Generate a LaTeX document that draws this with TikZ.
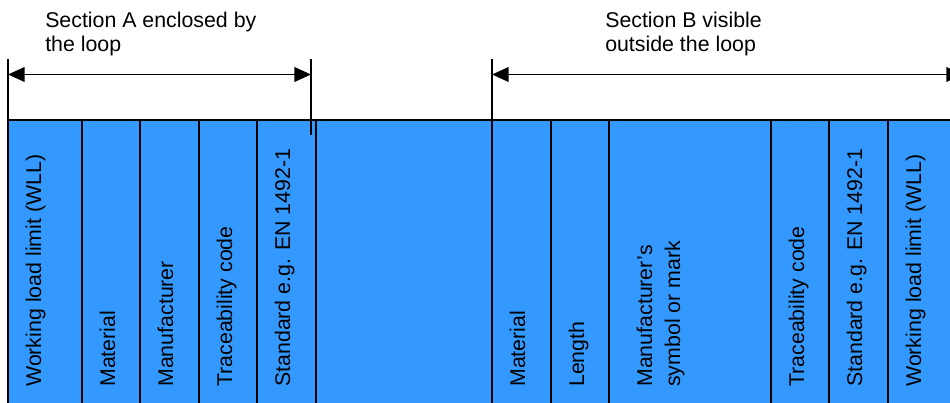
\documentclass[tikz,border=0pt]{standalone}
\usepackage{fontspec}
\setmainfont{Liberation Sans}
\usetikzlibrary{arrows.meta}
\definecolor{stripblue}{RGB}{51,153,255}
\begin{document}
\begin{tikzpicture}[x=0.75pt,y=-0.75pt]
\tikzstyle{every node}=[font=\fontsize{16}{18}\selectfont,inner sep=0pt]
\tikzstyle{field}=[rotate=90,anchor=base west,align=left]
\tikzstyle{heading}=[anchor=base west,align=left]
\tikzstyle{dimline}=[line width=1.3pt,{Triangle[length=12.5pt,width=11pt]}-{Triangle[length=12.5pt,width=11pt]}]
\useasboundingbox (0,0) rectangle (950,403);
\clip (0,0) rectangle (950,403);
% the strip
\fill[stripblue] (8,120) rectangle (980,420);
\draw[line width=1.2pt] (980,120) -- (8,120) -- (8,420);
\foreach \x in {82,140,199,257,316,492,551,609,771,829,888}{
\draw[line width=1.5pt] (\x,120) -- (\x,420);}
% fields of section A and B
\foreach \n/\x/\t in {wllA/8/Working load limit (WLL), matA/82/Material, manA/140/Manufacturer, trcA/199/Traceability code, stdA/257/Standard e.g. EN 1492-1, matB/492/Material, lenB/551/Length, manB/647/{Manufacturer’s\\[3pt]symbol or mark}, trcB/771/Traceability code, stdB/829/Standard e.g. EN 1492-1, wllB/888/Working load limit (WLL)}{
\path (\x+33,387) node[field] (\n) {\t};}
% dimension lines
\coordinate (a1) at (8,74.5);
\coordinate (a2) at (311,74.5);
\coordinate (b1) at (492,74.5);
\coordinate (b2) at (963,74.5);
\draw[line width=1.2pt] (a1)+(0,-15.5) -- +(0,46);
\draw[line width=1.2pt] (a2)+(0,-15.5) -- +(0,60.5);
\draw[line width=1.2pt] (b1)+(0,-15.5) -- +(0,46);
\draw[dimline] (a1) -- (a2);
\draw[dimline] (b1) -- (b2);
\path (45,52) node[heading] (secA) {Section A enclosed by\\the loop};
\path (605,52) node[heading] (secB) {Section B visible\\outside the loop};
\end{tikzpicture}
\end{document}
